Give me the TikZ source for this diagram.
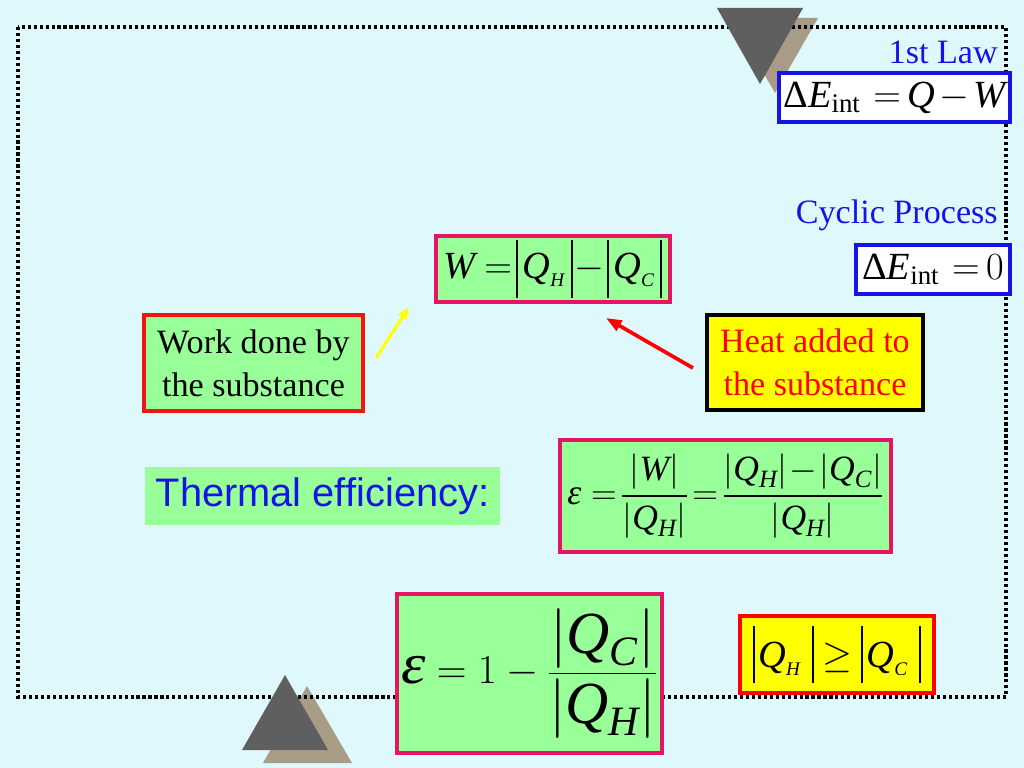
\RequirePackage{fix-cm}
\documentclass[tikz,border=0pt]{standalone}
\usepackage{amsmath}
\usepackage{graphicx}
\usepackage{fontspec}
\setmainfont{Liberation Serif}
\setsansfont{Liberation Sans}
\usetikzlibrary{arrows.meta}
\definecolor{bgc}{RGB}{222,248,252}
\definecolor{lgreen}{RGB}{153,255,153}
\definecolor{pinkb}{RGB}{230,20,100}
\definecolor{redb}{RGB}{240,20,20}
\definecolor{tdark}{RGB}{95,95,95}
\definecolor{tbrown}{RGB}{168,156,134}
\definecolor{tblue}{RGB}{20,20,230}
\definecolor{yel}{RGB}{255,255,0}
\def\pxu{0.703125pt}
\newcommand\mi[1]{\text{\itshape #1}}
\newcommand\mr[1]{\text{\upshape #1}}
\newcommand\vb[2]{\mathord{\rule[#1]{1.3pt}{#2}}}
\newcommand\tight{\thickmuskip=2mu\medmuskip=1mu\relax}
\newcommand\medtight{\thickmuskip=3mu\medmuskip=2mu\relax}
\begin{document}
\begin{tikzpicture}[x=0.703125pt,y=-0.703125pt,
  sz/.style 2 args={minimum width=#1*\pxu, minimum height=#2*\pxu},
  anybox/.style={inner sep=0pt, align=center},
  eqbox/.style={anybox, draw=tblue, fill=white, line width=2.5pt, font=\fontsize{27}{33}\selectfont\medtight},
  greenbox/.style={anybox, draw=pinkb, fill=lgreen, line width=2.6pt, font=\fontsize{27}{33}\selectfont\tight},
  textbox/.style={anybox, line width=2.4pt, font=\fontsize{24}{30}\selectfont},
  bluetext/.style={text=tblue, inner sep=0pt, anchor=east, font=\fontsize{24}{29}\selectfont},
  frameline/.style={black, line width=2.4pt, dash pattern=on 2.2pt off 2pt}]
\fill[bgc] (0,0) rectangle (1024,768);
\useasboundingbox (0,0) rectangle (1024,768);
% shadow triangles
\fill[tbrown] (732,18) -- (818,18) -- (775,93) -- cycle;
\fill[tbrown] (307,686) -- (263,763) -- (352,763) -- cycle;
\draw[frameline] (18,27) rectangle (1006,697);
\fill[tdark] (717,8) -- (803,8) -- (760,84) -- cycle;
\fill[tdark] (285,675) -- (242,750) -- (328,750) -- cycle;
% right column
\node[bluetext] (law) at (998,52) {1st Law};
\node[eqbox, sz={231}{49}] (eq1) at (894.5,97.5)
  {$\mr{Δ}\mi{E}_{\mr{int}}\;=\mi{Q}-\mi{W}$};
\node[bluetext] (cyc) at (998,215) {Cyclic Process};
\node[eqbox, sz={154}{49}] (eq2) at (933,269.5)
  {$\mr{Δ}\mi{E}_{\mr{int}}\;=0$};
% W box
\node[greenbox, sz={234}{66}] (wbox) at (553,269)
  {$\mi{W}\;=\vb{-0.5em}{1.5em}\hspace{0.12em}\mi{Q}_{\scriptscriptstyle\mi{H}}\hspace{0.15em}\vb{-0.5em}{1.5em}-\vb{-0.5em}{1.5em}\hspace{0.12em}\mi{Q}_{\scriptscriptstyle\mi{C}}\hspace{0.15em}\vb{-0.5em}{1.5em}$};
% text boxes
\node[textbox, draw=redb, fill=lgreen, sz={219}{96}] (work) at (253.5,363)
  {Work done by\\the substance};
\node[textbox, draw=black, fill=yel, text=red, sz={216}{95}] (heat) at (815,362.5)
  {Heat added to\\the substance};
% arrows
\coordinate (ya) at (376,358);
\coordinate (yb) at (409,307);
\draw[yel, line width=2.1pt, -{Triangle[length=8.5pt,width=6.5pt]}] (ya) -- (yb);
\coordinate (ra) at (693,368);
\coordinate (rb) at (606,318);
\draw[red, line width=2.6pt, -{Triangle[length=11pt,width=8pt]}] (ra) -- (rb);
% thermal efficiency
\node[anybox, fill=lgreen, sz={355}{58}, text=tblue, font=\sffamily\fontsize{28}{34}\selectfont] (therm) at (322.5,496)
  {Thermal efficiency:};
\node[greenbox, sz={331}{112}, font=\fontsize{25}{30}\selectfont\tight] (eff) at (725.5,496)
  {$\mi{ε}\,=\dfrac{\left|\mi{W}\right|}{\left|\mi{Q}_{\mi{H}}\right|}
   =\dfrac{\left|\mi{Q}_{\mi{H}}\right|-\left|\mi{Q}_{\mi{C}}\right|}{\left|\mi{Q}_{\mi{H}}\right|}$};
% big box
\node[greenbox, sz={265}{159}, font=\fontsize{29}{35}\selectfont] (big) at (529.5,673.5)
  {$\scalebox{1.5}[1.4]{\mi{ε}}=1-\dfrac{\hbox{\fontsize{42}{50}\selectfont$\left|\mi{Q}_{\mi{C}}\right|$}}{\hbox{\fontsize{42}{50}\selectfont$\left|\mi{Q}_{\mi{H}}\right|$}}$};
% inequality
\node[anybox, draw=red, fill=yel, line width=3.2pt, sz={194}{77}, font=\fontsize{27}{33}\selectfont\tight] (ineq) at (837,654.5)
  {$\vb{-0.4em}{1.5em}\hspace{0.1em}\mi{Q}_{\scriptscriptstyle\mi{H}}\hspace{0.3em}\vb{-0.4em}{1.5em}\;\geq\;\vb{-0.4em}{1.5em}\hspace{0.1em}\mi{Q}_{\scriptscriptstyle\mi{C}}\hspace{0.3em}\vb{-0.4em}{1.5em}$};
\end{tikzpicture}
\end{document}
